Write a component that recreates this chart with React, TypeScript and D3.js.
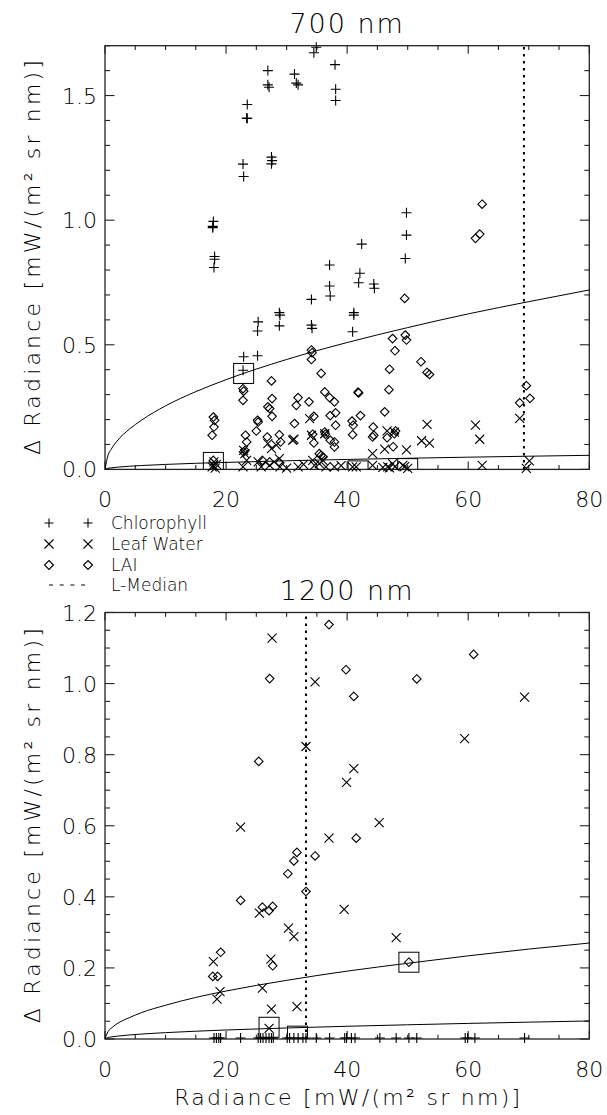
import React from "react";
import * as d3 from "d3";

type Pt = [number, number];

// tick values
const xTicks = [0, 20, 40, 60, 80];
const yTicks700 = [0.0, 0.5, 1.0, 1.5];
const yTicks1200 = [0.0, 0.2, 0.4, 0.6, 0.8, 1.0, 1.2];

// model curves
const curveX = [0, 0.5, 1, 2, 4, 6, 10, 15, 20, 30, 40, 50, 60, 70, 80];
const upper700 = [0, 0.057, 0.08, 0.114, 0.161, 0.197, 0.255, 0.312, 0.36, 0.441, 0.509, 0.569, 0.624, 0.673, 0.72];
const lower700 = [0, 0.0045, 0.0063, 0.0089, 0.0126, 0.0155, 0.02, 0.0245, 0.028, 0.0346, 0.04, 0.0447, 0.049, 0.0529, 0.0565];
const upper1200 = [0, 0.021, 0.03, 0.043, 0.06, 0.074, 0.095, 0.117, 0.135, 0.165, 0.191, 0.213, 0.234, 0.253, 0.27];
const lower1200 = [0, 0.004, 0.0057, 0.008, 0.0113, 0.0139, 0.0179, 0.0219, 0.0254, 0.031, 0.0358, 0.04, 0.0439, 0.0474, 0.0507];

// L-median
const median700 = 69.2;
const median1200 = 33.2;

// boxes marking points on the curves
const boxes700: Pt[] = [[22.9, 0.385], [17.9, 0.028], [41.8, -0.006], [50.0, 0.003]];
const boxes1200: Pt[] = [[50.2, 0.216], [27.1, 0.033], [31.8, 0.008]];

// 700 nm
const chl700: Pt[] = [
  [26.9, 1.6], [26.9, 1.543], [27.1, 1.533], [31.3, 1.586], [31.6, 1.55], [31.9, 1.543], [34.5, 1.672], [34.9, 1.694],
  [38.0, 1.624], [38.1, 1.525], [38.1, 1.48], [23.5, 1.464], [23.4, 1.41], [23.5, 1.408], [22.8, 1.225], [22.9, 1.175],
  [27.5, 1.253], [27.6, 1.239], [27.5, 1.226], [17.9, 0.995], [17.8, 0.975], [17.8, 0.97], [18.1, 0.854], [18.1, 0.843],
  [18.0, 0.81], [37.1, 0.82], [42.4, 0.904], [42.1, 0.787], [49.8, 1.03], [49.8, 0.94], [49.6, 0.846], [37.1, 0.736],
  [37.2, 0.696], [41.9, 0.749], [44.4, 0.744], [44.5, 0.727], [34.1, 0.682], [28.8, 0.629], [28.9, 0.619], [28.8, 0.576],
  [25.3, 0.592], [25.2, 0.555], [34.1, 0.579], [34.2, 0.566], [41.1, 0.629], [41.1, 0.619], [40.9, 0.552], [22.9, 0.452],
  [22.8, 0.398], [25.2, 0.456],
];
const water700: Pt[] = [
  [68.5, 0.205], [61.2, 0.178], [61.9, 0.121], [53.2, 0.181], [53.6, 0.105], [52.3, 0.115], [49.8, 0.078], [46.6, 0.155],
  [46.2, 0.081], [62.3, 0.016], [69.6, 0.004], [70.1, 0.034], [47.0, 0.006], [47.9, 0.011], [50.0, 0.004], [49.5, 0.011],
  [45.9, 0.008], [33.8, 0.204], [31.2, 0.121], [27.5, 0.083], [34.1, 0.137], [36.3, 0.143], [47.8, 0.15], [44.2, 0.063],
  [22.9, 0.076], [23.1, 0.063], [23.4, 0.036], [18.0, 0.03], [17.9, 0.016], [17.7, 0.01], [18.2, 0.005], [18.4, 0.02],
  [22.8, 0.01], [25.3, 0.03], [25.8, 0.01], [27.2, 0.016], [28.8, 0.043], [28.9, 0.01], [30.0, 0.005], [31.9, 0.01],
  [32.8, 0.02], [34.3, 0.036], [34.6, 0.016], [35.4, 0.023], [36.0, 0.036], [36.5, 0.01], [37.9, 0.01], [39.0, 0.015],
  [40.9, 0.01], [41.5, 0.01], [44.2, 0.016], [46.7, 0.01], [47.5, 0.023], [49.2, 0.016], [28.3, 0.097], [26.9, 0.103],
  [31.0, 0.117],
];
const lai700: Pt[] = [
  [49.5, 0.686], [47.5, 0.525], [49.6, 0.539], [49.8, 0.519], [47.9, 0.476], [34.1, 0.479], [34.2, 0.468], [34.1, 0.441],
  [27.5, 0.355], [22.8, 0.324], [22.9, 0.314], [22.8, 0.277], [35.7, 0.385], [47.0, 0.402], [46.9, 0.32], [41.8, 0.31],
  [41.9, 0.307], [27.6, 0.284], [26.9, 0.251], [27.2, 0.244], [25.2, 0.197], [25.3, 0.19], [27.6, 0.213], [31.9, 0.288],
  [31.6, 0.257], [33.7, 0.271], [36.3, 0.311], [37.1, 0.288], [37.9, 0.271], [37.2, 0.216], [38.1, 0.227], [34.5, 0.213],
  [31.3, 0.184], [38.1, 0.177], [40.8, 0.194], [41.0, 0.177], [40.9, 0.139], [42.2, 0.216], [46.2, 0.231], [44.3, 0.17],
  [44.4, 0.137], [44.2, 0.13], [17.9, 0.21], [18.1, 0.197], [18.0, 0.17], [17.7, 0.137], [23.2, 0.137], [23.4, 0.11],
  [25.0, 0.154], [26.8, 0.13], [28.8, 0.139], [29.0, 0.11], [34.3, 0.141], [34.5, 0.106], [36.3, 0.15], [36.4, 0.141],
  [37.2, 0.117], [37.9, 0.11], [37.9, 0.09], [46.6, 0.127], [48.0, 0.154], [47.8, 0.143], [17.9, 0.036], [23.1, 0.076],
  [22.9, 0.07], [26.0, 0.036], [27.2, 0.03], [28.7, 0.03], [35.4, 0.063], [35.7, 0.056], [36.0, 0.05], [62.3, 1.064],
  [61.2, 0.927], [61.9, 0.944], [52.2, 0.432], [53.2, 0.389], [53.6, 0.381], [47.6, 0.091], [69.6, 0.336], [70.2, 0.285],
  [68.5, 0.267],
];

// 1200 nm
const chl1200: Pt[] = [
  [18.0, 0.003], [18.4, 0.003], [18.8, 0.003], [19.1, 0.003], [22.4, 0.003], [25.3, 0.003], [25.7, 0.003], [26.1, 0.003],
  [26.6, 0.003], [27.1, 0.003], [27.5, 0.003], [27.8, 0.003], [30.1, 0.003], [30.5, 0.003], [31.2, 0.003], [31.9, 0.003],
  [32.7, 0.003], [33.2, 0.003], [34.9, 0.003], [37.1, 0.003], [39.6, 0.003], [39.9, 0.003], [40.7, 0.003], [41.3, 0.003],
  [45.4, 0.003], [48.1, 0.003], [50.2, 0.003], [51.5, 0.003], [59.5, 0.003], [59.9, 0.003], [61.1, 0.003], [69.3, 0.003],
];
const water1200: Pt[] = [
  [27.6, 1.128], [34.7, 1.005], [33.2, 0.823], [39.9, 0.722], [41.1, 0.761], [69.3, 0.962], [59.4, 0.845], [22.4, 0.596],
  [37.0, 0.565], [39.5, 0.365], [25.5, 0.354], [30.3, 0.312], [31.2, 0.288], [17.9, 0.218], [27.4, 0.225], [26.0, 0.143],
  [19.0, 0.133], [18.5, 0.112], [27.5, 0.084], [31.7, 0.091], [27.1, 0.03], [45.3, 0.609], [48.1, 0.285],
];
const lai1200: Pt[] = [
  [37.0, 1.166], [27.2, 1.014], [39.8, 1.039], [41.1, 0.964], [25.4, 0.781], [60.9, 1.082], [51.5, 1.013], [41.5, 0.565],
  [31.7, 0.525], [31.2, 0.501], [34.7, 0.515], [30.2, 0.465], [33.2, 0.415], [22.4, 0.39], [26.0, 0.371], [27.1, 0.361],
  [27.7, 0.373], [19.1, 0.244], [17.8, 0.176], [18.6, 0.176], [27.7, 0.206], [50.2, 0.216],
];

const W = 607;
const H = 1115;
const LEFT = 105;
const RIGHT = 589.3;
const FONT = "'DejaVu Sans', sans-serif";
const INK = "#000";

const plusPath = (x: number, y: number, r = 5) => `M${x - r},${y}h${2 * r}M${x},${y - r}v${2 * r}`;
const crossPath = (x: number, y: number, r = 4.5) =>
  `M${x - r},${y - r}l${2 * r},${2 * r}M${x - r},${y + r}l${2 * r},${-2 * r}`;
const diamondPath = (x: number, y: number, r = 4.3) => `M${x},${y - r}l${r},${r}l${-r},${r}l${-r},${-r}z`;

type PanelProps = {
  id: string;
  title: string;
  top: number;
  bottom: number;
  yMax: number;
  yTicks: number[];
  yMinorStep: number;
  upper: number[];
  lower: number[];
  median: number;
  boxes: Pt[];
  chl: Pt[];
  water: Pt[];
  lai: Pt[];
  xLabel: boolean;
};

function Panel(p: PanelProps) {
  const x = d3.scaleLinear().domain([0, 80]).range([LEFT, RIGHT]);
  const y = d3.scaleLinear().domain([0, p.yMax]).range([p.bottom, p.top]);
  const line = d3
    .line<number>()
    .x((_, i) => x(curveX[i]))
    .y((d) => y(d))
    .curve(d3.curveMonotoneX);
  const xMinor = d3.range(0, 80.01, 5);
  const yMinor = d3.range(0, p.yMax + 1e-6, p.yMinorStep);
  const cy = (p.top + p.bottom) / 2;
  const cx = (LEFT + RIGHT) / 2;
  const clip = `clip-${p.id}`;

  return (
    <g>
      <defs>
        <clipPath id={clip}>
          <rect x={LEFT} y={p.top} width={RIGHT - LEFT} height={p.bottom - p.top} />
        </clipPath>
      </defs>

      {/* frame and ticks */}
      <rect x={LEFT} y={p.top} width={RIGHT - LEFT} height={p.bottom - p.top} fill="none" stroke="#222" strokeWidth={1.3} />
      {xMinor.map((v) => {
        const major = v % 20 === 0;
        const len = major ? 8 : 4.3;
        return (
          <g key={"xt" + v} stroke="#222" strokeWidth={1.1}>
            <line x1={x(v)} x2={x(v)} y1={p.bottom} y2={p.bottom - len} />
            <line x1={x(v)} x2={x(v)} y1={p.top} y2={p.top + len} />
          </g>
        );
      })}
      {yMinor.map((v, i) => {
        const major = p.yTicks.some((t) => Math.abs(t - v) < 1e-6);
        const len = major ? 9.5 : 5;
        return (
          <g key={"yt" + i} stroke="#222" strokeWidth={1.1}>
            <line x1={LEFT} x2={LEFT + len} y1={y(v)} y2={y(v)} />
            <line x1={RIGHT} x2={RIGHT - len} y1={y(v)} y2={y(v)} />
          </g>
        );
      })}

      {/* tick labels */}
      <g fontFamily={FONT} fontWeight={200} fontSize={22} fill={INK}>
        {xTicks.map((v) => (
          <text key={"xl" + v} x={x(v)} y={p.bottom + 38} textAnchor="middle">
            {v}
          </text>
        ))}
        {p.yTicks.map((v) => (
          <text key={"yl" + v} x={LEFT - 8} y={y(v) + 8} textAnchor="end">
            {d3.format(".1f")(v)}
          </text>
        ))}
      </g>

      {/* title and axis labels */}
      <text x={cx} y={p.top - 13} textAnchor="middle" fontFamily={FONT} fontWeight={200} fontSize={27} letterSpacing={2}>
        {p.title}
      </text>
      <text
        transform={`translate(40,${cy}) rotate(-90)`}
        textAnchor="middle"
        fontFamily={FONT}
        fontWeight={200}
        fontSize={22}
        textLength={395}
        lengthAdjust="spacing"
      >
        Δ Radiance [mW/(m² sr nm)]
      </text>
      {p.xLabel && (
        <text
          x={cx}
          y={p.bottom + 66}
          textAnchor="middle"
          fontFamily={FONT}
          fontWeight={200}
          fontSize={22}
          textLength={346}
          lengthAdjust="spacing"
        >
          Radiance [mW/(m² sr nm)]
        </text>
      )}

      {/* curves, boxes, median */}
      <g clipPath={`url(#${clip})`} fill="none" stroke={INK} strokeWidth={1}>
        <path d={line(p.upper) ?? ""} />
        <path d={line(p.lower) ?? ""} />
        {p.boxes.map(([bx, by], i) => (
          <rect key={"b" + i} x={x(bx) - 10} y={y(by) - 10} width={20} height={20} />
        ))}
      </g>
      <line
        x1={x(p.median)}
        x2={x(p.median)}
        y1={y(0)}
        y2={p.top}
        stroke={INK}
        strokeWidth={2}
        strokeDasharray="2.5,4.5"
      />

      {/* points */}
      <g fill="none" stroke={INK} strokeWidth={1.1}>
        {p.chl.map(([a, b], i) => (
          <path key={"c" + i} d={plusPath(x(a), y(b))} />
        ))}
        {p.water.map(([a, b], i) => (
          <path key={"w" + i} d={crossPath(x(a), y(b))} />
        ))}
        {p.lai.map(([a, b], i) => (
          <path key={"l" + i} d={diamondPath(x(a), y(b))} />
        ))}
      </g>
    </g>
  );
}

function Legend() {
  const rows = [
    { label: "Chlorophyll", kind: "plus", y: 523 },
    { label: "Leaf Water", kind: "cross", y: 544 },
    { label: "LAI", kind: "diamond", y: 565 },
    { label: "L-Median", kind: "dots", y: 585 },
  ];
  return (
    <g fontFamily={FONT} fontWeight={200} fontSize={17}>
      {rows.map((r) => (
        <g key={r.label}>
          {r.kind === "dots" ? (
            <line x1={49} x2={86} y1={r.y} y2={r.y} stroke={INK} strokeWidth={1} strokeDasharray="4,6.7" />
          ) : (
            [49, 88].map((sx) => (
              <path
                key={sx}
                d={r.kind === "plus" ? plusPath(sx, r.y, 4.5) : r.kind === "cross" ? crossPath(sx, r.y, 4.5) : diamondPath(sx, r.y, 4.5)}
                fill="none"
                stroke={INK}
                strokeWidth={1.1}
              />
            ))
          )}
          <text x={111} y={r.y + 6}>
            {r.label}
          </text>
        </g>
      ))}
    </g>
  );
}

export default function App() {
  return (
    <svg width={W} height={H} style={{ position: "absolute", left: 0, top: 0, background: "#fff" }}>
      <rect width={W} height={H} fill="#fff" />
      <Panel
        id="p700"
        title="700 nm"
        top={45.7}
        bottom={469.4}
        yMax={1.7}
        yTicks={yTicks700}
        yMinorStep={0.1}
        upper={upper700}
        lower={lower700}
        median={median700}
        boxes={boxes700}
        chl={chl700}
        water={water700}
        lai={lai700}
        xLabel={false}
      />
      <Legend />
      <Panel
        id="p1200"
        title="1200 nm"
        top={612.5}
        bottom={1039}
        yMax={1.2}
        yTicks={yTicks1200}
        yMinorStep={0.05}
        upper={upper1200}
        lower={lower1200}
        median={median1200}
        boxes={boxes1200}
        chl={chl1200}
        water={water1200}
        lai={lai1200}
        xLabel={true}
      />
    </svg>
  );
}
